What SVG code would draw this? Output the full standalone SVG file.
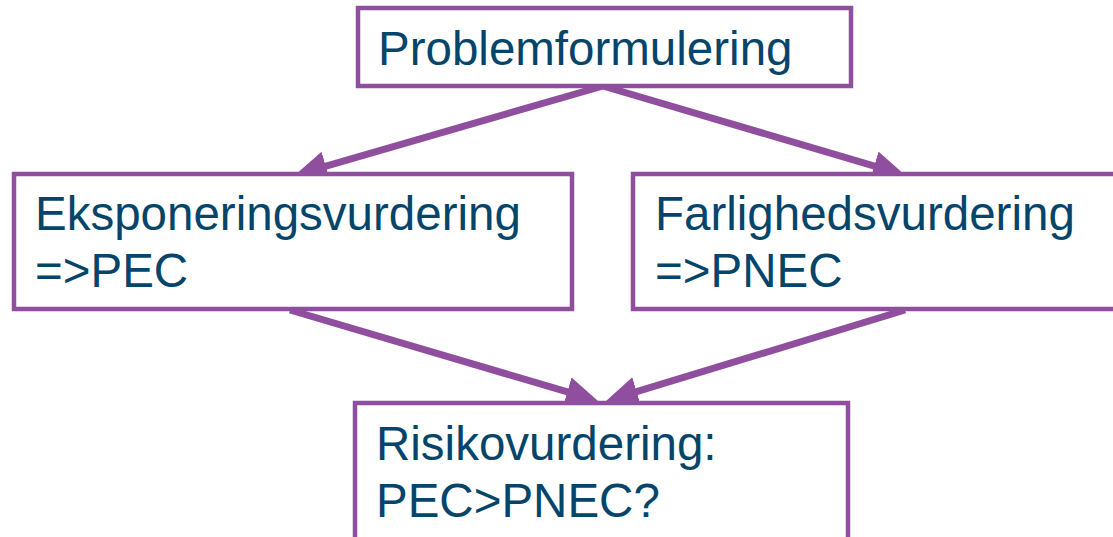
<svg xmlns="http://www.w3.org/2000/svg" width="1113" height="537" viewBox="0 0 1113 537">
<defs>
<style>
.box{fill:#fff;stroke:#8F4F9E;stroke-width:4.5}
.lbl{font-family:"Liberation Sans",Arial,sans-serif;font-size:47.5px;fill:#06456A}
.conn{stroke:#8F4F9E;stroke-width:7;fill:none;marker-end:url(#ah)}
</style>
<marker id="ah" markerUnits="userSpaceOnUse" markerWidth="32" markerHeight="32" viewBox="0 0 32 32" refX="24" refY="16" orient="auto">
<path d="M0,1 L32,16 L0,31 z" fill="#8F4F9E"/>
</marker>
</defs>
<rect width="1113" height="537" fill="#fff"/>
<g id="connectors">
<line class="conn" x1="603" y1="86" x2="302.7" y2="172.8"/>
<line class="conn" x1="603" y1="86" x2="897.3" y2="172.8"/>
<line class="conn" x1="290" y1="310" x2="590.3" y2="398.7"/>
<line class="conn" x1="905" y1="310" x2="613.7" y2="398.7"/>
</g>
<g id="problemformulering">
<rect class="box" x="358" y="8" width="493" height="78"/>
<text class="lbl" x="378" y="65">Problemformulering</text>
</g>
<g id="eksponering">
<rect class="box" x="14" y="174" width="558" height="135"/>
<text class="lbl" x="35" y="230">Eksponeringsvurdering</text>
<text class="lbl" x="35" y="287">=&gt;PEC</text>
</g>
<g id="farlighed">
<rect class="box" x="633" y="174" width="500" height="135"/>
<text class="lbl" x="655" y="230">Farlighedsvurdering</text>
<text class="lbl" x="655" y="287">=&gt;PNEC</text>
</g>
<g id="risiko">
<rect class="box" x="355" y="403" width="493" height="150"/>
<text class="lbl" x="376" y="460">Risikovurdering:</text>
<text class="lbl" x="376" y="517">PEC&gt;PNEC?</text>
</g>
</svg>
